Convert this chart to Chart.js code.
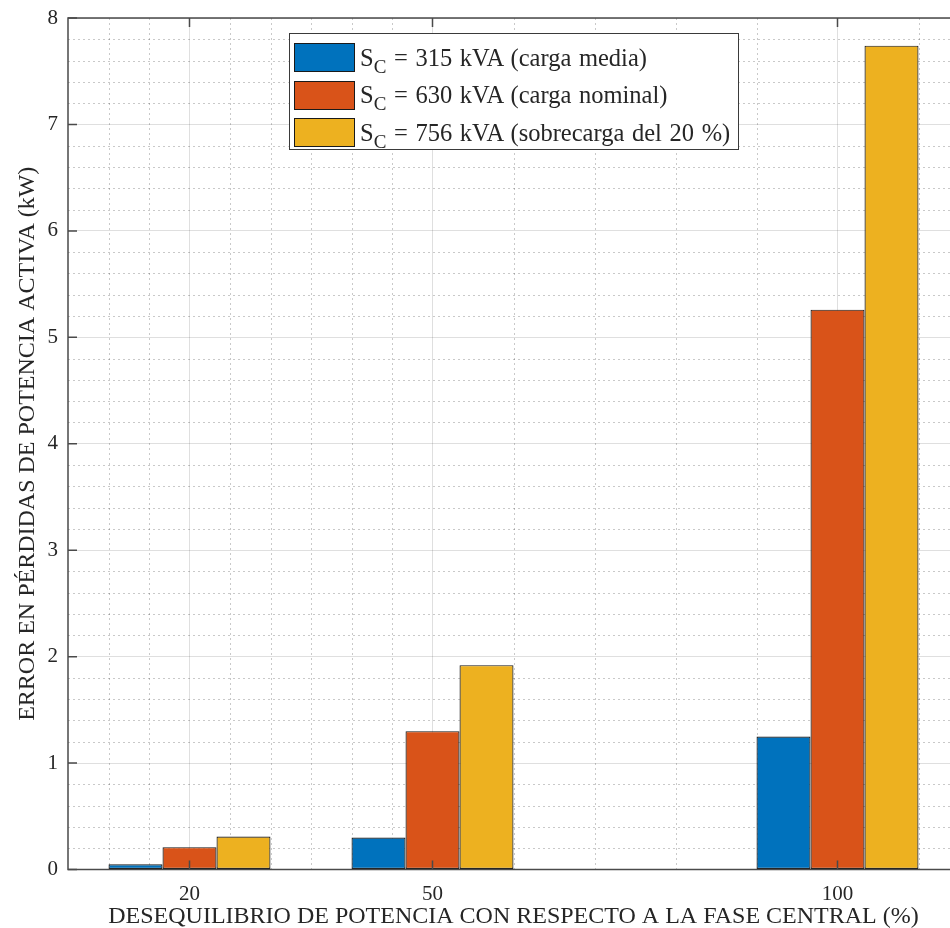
<!DOCTYPE html>
<html lang="es">
<head>
<meta charset="utf-8">
<title>Error en pérdidas de potencia activa</title>
<script src="https://cdn.jsdelivr.net/npm/chart.js@4.4.1/dist/chart.umd.min.js"></script>
<style>
  html, body { margin: 0; padding: 0; background: #ffffff; overflow: hidden; }
  #wrap { position: relative; width: 980px; height: 928px; }
  #legend {
    position: absolute; left: 289px; top: 33px;
    box-sizing: border-box; width: 450px; height: 117px;
    background: #ffffff; border: 1.5px solid #3a3a3a;
    font-family: "Liberation Serif", "DejaVu Serif", serif;
    font-size: 24.5px; color: #262626; word-spacing: 1.5px;
    padding: 5px 0 0 4px;
  }
  #legend .row { display: flex; align-items: center; height: 37.5px; }
  #legend .sw { width: 61px; height: 29px; box-sizing: border-box; border: 1.2px solid #1a1a1a; margin-right: 5px; flex: none; }
  #legend sub { font-size: 19px; vertical-align: -7px; line-height: 0; }
</style>
</head>
<body>
<div id="wrap">
  <canvas id="chart" width="980" height="928"></canvas>
  <div id="legend"></div>
</div>
<script>
// Desequilibrio de potencia (%) on the horizontal axis
const imbalance = [20, 50, 100];

// Error en pérdidas de potencia activa (kW), one array per load level
const load315 = [0.05, 0.30, 1.25];
const load630 = [0.21, 1.30, 5.26];
const load756 = [0.31, 1.92, 7.74];

// Series names; "S_C" is written with a subscript C in the legend
const seriesNames = [
  'S_C = 315 kVA (carga media)',
  'S_C = 630 kVA (carga nominal)',
  'S_C = 756 kVA (sobrecarga del 20 %)'
];
const seriesColors = ['#0072BD', '#D95319', '#EDB120'];

// Axis ticks and the lighter minor grid
const xMajorTicks = [20, 50, 100];
const xMinorGrid = [10, 15, 25, 30, 35, 40, 45, 60, 70, 80, 90, 110];
const yMajorTicks = [0, 1, 2, 3, 4, 5, 6, 7, 8];
const yMinorStep = 0.2;

const FONT = '"Liberation Serif", "DejaVu Serif", serif';
const TEXT = '#262626';
const FRAME = '#4a4a4a';

const seriesValues = [load315, load630, load756];
const datasets = seriesValues.map((vals, i) => ({
  label: seriesNames[i].replace('S_C', 'SC'),
  data: imbalance.map((x, j) => ({ x: x, y: vals[j] })),
  backgroundColor: seriesColors[i],
  borderColor: '#1a1a1a',
  borderWidth: 1.2,
  borderSkipped: false,
  categoryPercentage: 2 / 3,
  barPercentage: 1
}));

// Minor dotted grid below the bars, box and inward tick marks above them
const matlabAxes = {
  id: 'matlabAxes',
  beforeDatasetsDraw(chart) {
    const { ctx, chartArea: a, scales: { x, y } } = chart;
    ctx.save();
    ctx.strokeStyle = 'rgba(38,38,38,0.25)';
    ctx.lineWidth = 1;
    ctx.setLineDash([2, 3]);
    xMinorGrid.forEach(v => {
      const px = Math.round(x.getPixelForValue(v)) + 0.5;
      ctx.beginPath(); ctx.moveTo(px, a.top); ctx.lineTo(px, a.bottom); ctx.stroke();
    });
    const n = Math.round((y.max - y.min) / yMinorStep);
    for (let k = 1; k < n; k++) {
      const v = y.min + k * yMinorStep;
      if (Math.abs(v - Math.round(v)) < 1e-6) continue;
      const py = Math.round(y.getPixelForValue(v)) + 0.5;
      ctx.beginPath(); ctx.moveTo(a.left, py); ctx.lineTo(a.right, py); ctx.stroke();
    }
    ctx.restore();
  },
  afterDatasetsDraw(chart) {
    const { ctx, chartArea: a, scales: { x, y } } = chart;
    const len = 9;
    ctx.save();
    ctx.strokeStyle = FRAME;
    ctx.lineWidth = 1.5;
    ctx.setLineDash([]);
    ctx.beginPath();
    xMajorTicks.forEach(v => {
      const px = x.getPixelForValue(v);
      ctx.moveTo(px, a.bottom); ctx.lineTo(px, a.bottom - len);
      ctx.moveTo(px, a.top); ctx.lineTo(px, a.top + len);
    });
    yMajorTicks.forEach(v => {
      const py = y.getPixelForValue(v);
      ctx.moveTo(a.left, py); ctx.lineTo(a.left + len, py);
      ctx.moveTo(a.right, py); ctx.lineTo(a.right - len, py);
    });
    ctx.stroke();
    ctx.strokeRect(a.left, a.top, a.right - a.left, a.bottom - a.top);
    ctx.restore();
  }
};

const chart = new Chart(document.getElementById('chart'), {
  type: 'bar',
  data: { datasets },
  plugins: [matlabAxes],
  options: {
    responsive: false,
    animation: false,
    events: [],
    layout: { padding: { top: 18, right: 21, bottom: 0, left: 0 } },
    plugins: { legend: { display: false }, tooltip: { enabled: false } },
    scales: {
      x: {
        type: 'linear',
        min: 5,
        max: 115,
        offset: false,
        afterBuildTicks: s => { s.ticks = xMajorTicks.map(v => ({ value: v })); },
        afterFit: s => { s.height = 58.5; s.paddingLeft = 0; s.paddingRight = 0; },
        grid: { offset: false, color: 'rgba(38,38,38,0.15)', lineWidth: 1, drawTicks: false },
        border: { display: false },
        ticks: { color: TEXT, font: { family: FONT, size: 21 }, padding: 12, maxRotation: 0, autoSkip: false },
        title: {
          display: true,
          text: 'DESEQUILIBRIO DE POTENCIA CON RESPECTO A LA FASE CENTRAL (%)',
          color: TEXT,
          font: { family: FONT, size: 24 },
          padding: { top: 0, bottom: -3 }
        }
      },
      y: {
        min: 0,
        max: 8,
        afterBuildTicks: s => { s.ticks = yMajorTicks.map(v => ({ value: v })); },
        afterFit: s => { s.width = 68; s.paddingTop = 0; s.paddingBottom = 0; },
        grid: { color: 'rgba(38,38,38,0.15)', lineWidth: 1, drawTicks: false },
        border: { display: false },
        ticks: { color: TEXT, font: { family: FONT, size: 21 }, padding: 10 },
        title: {
          display: true,
          text: 'ERROR EN PÉRDIDAS DE POTENCIA ACTIVA (kW)',
          color: TEXT,
          font: { family: FONT, size: 24 },
          padding: { top: 13, bottom: 0 }
        }
      }
    }
  }
});

// Legend built from the chart's own datasets
const legendEl = document.getElementById('legend');
chart.data.datasets.forEach((ds, i) => {
  const row = document.createElement('div');
  row.className = 'row';
  const sw = document.createElement('span');
  sw.className = 'sw';
  sw.style.background = ds.backgroundColor;
  const txt = document.createElement('span');
  const parts = seriesNames[i].split('S_C');
  txt.append(parts[0], 'S');
  const sub = document.createElement('sub');
  sub.textContent = 'C';
  txt.append(sub, parts.slice(1).join('S_C'));
  row.append(sw, txt);
  legendEl.appendChild(row);
});
</script>
</body>
</html>
